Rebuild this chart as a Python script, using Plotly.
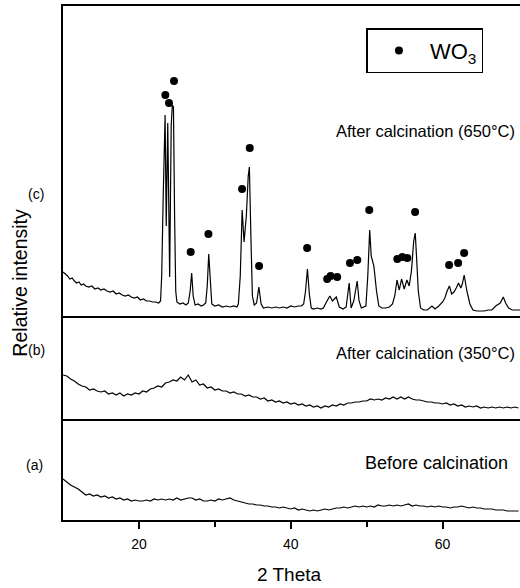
import plotly.graph_objects as go
from plotly.subplots import make_subplots

# ---------------- data ----------------
# (c) after calcination 650 C
c_theta = [10.0, 10.3, 10.6, 10.9, 11.2, 11.5, 11.8, 12.1, 12.4, 12.7, 13.0, 13.4, 13.8, 14.2, 14.6, 15.0, 15.4, 15.8,
           16.2, 16.6, 17.0, 17.4, 17.8, 18.2, 18.6, 19.0, 19.4, 19.8, 20.2, 20.6, 21.0, 21.4, 21.8, 22.2, 22.6, 22.85,
           23.0, 23.2, 23.35, 23.45, 23.6, 23.8, 24.05, 24.25, 24.4, 24.55, 24.7, 24.85, 25.0,
           25.4, 25.8, 26.2, 26.5, 26.75, 26.95, 27.15, 27.4, 27.8, 28.2, 28.5, 28.8, 29.0, 29.2, 29.4, 29.6, 30.0,
           30.5, 31.0, 31.5, 32.0, 32.5, 32.9, 33.1, 33.35, 33.6, 33.85, 34.15, 34.4, 34.55, 34.75, 34.95, 35.2, 35.5,
           35.8, 36.1, 36.4, 37.0, 37.5, 38.0, 38.5, 39.0, 39.5, 40.0, 40.5, 41.0, 41.4, 41.7, 41.95, 42.2, 42.45,
           42.7, 43.0, 43.5, 44.0, 44.3, 44.7, 45.15, 45.5, 46.0, 46.4, 46.9, 47.3, 47.5, 47.7, 47.95, 48.3, 48.75,
           49.0, 49.3, 49.6, 49.9, 50.15, 50.4, 50.6, 50.95, 51.3, 51.6, 52.0, 52.5, 53.0, 53.4, 53.7, 54.0, 54.3,
           54.6, 54.95, 55.3, 55.6, 55.9, 56.2, 56.4, 56.6, 56.8, 57.1, 57.5, 58.0, 58.3, 58.6, 59.0, 59.5, 60.0,
           60.3, 60.6, 60.9, 61.2, 61.5, 61.8, 62.1, 62.4, 62.6, 62.85, 63.2, 63.6, 64.0, 64.5, 65.0, 65.5, 66.0,
           66.5, 67.0, 67.6, 68.0, 68.3, 68.7, 69.2, 69.7, 70.2]
c_int = [44, 42, 40, 37, 38, 35, 33, 34, 31, 32, 30, 29, 30, 27, 28, 26, 27, 25,
         24, 25, 22, 23, 21, 20, 21, 19, 18, 19, 16, 17, 15, 15, 14, 14, 13, 15,
         40, 120, 190, 201, 90, 193, 39, 190, 211, 209, 100, 25, 14,
         12, 13, 11, 13, 25, 43, 20, 11, 12, 10, 11, 13, 30, 62, 30, 12, 10,
         11, 9, 10, 9, 10, 9, 12, 40, 106, 74, 100, 140, 149, 80, 20, 11, 13,
         29, 12, 8, 9, 8, 9, 8, 9, 8, 10, 9, 10, 10, 12, 25, 47, 22,
         8, 7, 8, 7, 8, 14, 20, 15, 19, 9, 7, 9, 20, 33, 8, 15, 35,
         15, 8, 9, 10, 40, 86, 60, 50, 25, 10, 8, 8, 9, 12, 20, 36, 26,
         37, 27, 36, 30, 45, 75, 83, 55, 25, 8, 6, 6, 8, 10, 7, 10, 14,
         18, 25, 30, 22, 24, 28, 33, 28, 32, 41, 25, 12, 6, 5, 5, 5, 6,
         6, 10, 13, 19, 13, 8, 6, 6, 6]

# WO3 reflections marked in (c)
wo3_theta = [23.48, 23.96, 24.62, 26.82, 29.16, 33.59, 34.6, 35.83, 42.16, 44.8, 45.25, 46.12, 47.8, 48.76,
             50.34, 54.04, 54.7, 55.36, 56.38, 60.86, 62.05, 62.84]
wo3_int = [221, 213, 235, 64, 82, 127, 168, 50, 68, 37, 40, 39, 53, 56,
           106, 57, 59, 58, 104, 51, 53, 63]

# (b) after calcination 350 C and (a) before calcination, 0.5 deg steps
ab_theta = [10.0 + 0.5 * i for i in range(121)]
b_int = [44, 43, 40, 38, 35, 33, 32, 29, 30, 28, 27, 28, 25, 26, 24, 26, 23, 25, 24, 26,
         25, 28, 27, 30, 31, 33, 32, 36, 37, 39, 38, 42, 39, 44, 37, 39, 34, 35, 31, 32,
         29, 30, 28, 28, 26, 27, 25, 25, 23, 24, 22, 22, 20, 21, 18, 19, 17, 18, 16, 17,
         15, 16, 14, 15, 13, 14, 12, 13, 11, 13, 12, 14, 13, 15, 14, 16, 16, 17, 17, 18,
         18, 20, 19, 20, 19, 21, 20, 22, 20, 22, 20, 22, 20, 19, 19, 18, 17, 17, 16, 16,
         15, 16, 14, 15, 13, 14, 12, 13, 12, 13, 11, 12, 11, 12, 11, 12, 11, 12, 11, 12, 11]
a_int = [41, 38, 35, 33, 31, 28, 25, 26, 24, 25, 23, 24, 22, 23, 21, 22, 20, 21, 19, 20,
         19, 19, 20, 19, 21, 20, 21, 20, 21, 20, 22, 20, 21, 22, 22, 20, 21, 19, 19, 20,
         19, 21, 20, 21, 22, 20, 19, 18, 17, 16, 16, 15, 15, 14, 14, 13, 13, 12, 13, 12,
         11, 12, 10, 11, 10, 9, 10, 9, 10, 11, 10, 11, 12, 12, 13, 12, 13, 14, 13, 14,
         13, 14, 13, 15, 14, 14, 15, 14, 15, 14, 15, 16, 14, 15, 14, 14, 13, 14, 13, 14,
         13, 13, 12, 13, 13, 14, 13, 12, 13, 12, 12, 11, 11, 11, 10, 10, 10, 9, 9, 9, 9]

x_ticks = [20, 40, 60]
x_minor = [30, 50]

FONT = "Liberation Sans, Arial, Helvetica, sans-serif"

# ---------------- figure ----------------
fig = make_subplots(rows=3, cols=1, shared_xaxes=True, vertical_spacing=0,
                    row_heights=[310, 103, 101])

line = dict(color="black", width=1.2)
fig.add_trace(go.Scatter(x=c_theta, y=c_int, mode="lines", line=line, showlegend=False), row=1, col=1)
fig.add_trace(go.Scatter(x=wo3_theta, y=wo3_int, mode="markers", name="WO<sub>3</sub>",
                         marker=dict(color="black", size=8), showlegend=True), row=1, col=1)
fig.add_trace(go.Scatter(x=ab_theta, y=b_int, mode="lines", line=line, showlegend=False), row=2, col=1)
fig.add_trace(go.Scatter(x=ab_theta, y=a_int, mode="lines", line=line, showlegend=False), row=3, col=1)

for r in (1, 2, 3):
    fig.update_xaxes(range=[10, 70.2], showline=True, linecolor="black", linewidth=2, mirror=(r == 1),
                     showgrid=False, zeroline=False, ticks="", showticklabels=False, row=r, col=1)
fig.update_xaxes(ticks="outside", ticklen=7, tickwidth=1.5, tickcolor="black", tickvals=x_ticks,
                 showticklabels=True, ticklabelstandoff=3,
                 tickfont=dict(family=FONT, size=14, color="black"),
                 minor=dict(tickvals=x_minor, ticks="outside", ticklen=5, tickwidth=1.5, tickcolor="black"),
                 row=3, col=1)
yr = {1: [0, 310], 2: [0, 103], 3: [0, 101]}
for r in (1, 2, 3):
    fig.update_yaxes(range=yr[r], showline=True, linecolor="black", linewidth=2, mirror=False,
                     showgrid=False, zeroline=False, ticks="", showticklabels=False, row=r, col=1)

ann = []
def A(text, x, y, size, xanchor="center", angle=0):
    ann.append(dict(text=text, x=x, y=y, xref="paper", yref="paper", xanchor=xanchor, yanchor="middle",
                    showarrow=False, textangle=angle, font=dict(family=FONT, size=size, color="black")))

A("After calcination (650°C)", 0.993, 0.757, 16.5, xanchor="right")
A("After calcination (350°C)", 0.993, 0.325, 16.5, xanchor="right")
A("Before calcination", 0.978, 0.111, 18, xanchor="right")
A("Relative intensity", -0.095, 0.461, 19.5, angle=-90)
A("(c)", -0.058, 0.634, 14)
A("(b)", -0.058, 0.331, 14)
A("(a)", -0.062, 0.107, 14)
A("2 Theta", 0.496, -0.107, 19)

fig.update_layout(
    width=520, height=588,
    margin=dict(l=63, r=0, t=6, b=68),
    paper_bgcolor="white", plot_bgcolor="white",
    annotations=ann,
    legend=dict(x=0.664, y=0.957, xanchor="left", yanchor="top", bordercolor="black", borderwidth=1.5,
                bgcolor="white", font=dict(family=FONT, size=22, color="black"),
                itemwidth=52),
)

fig.write_html("out.html")
